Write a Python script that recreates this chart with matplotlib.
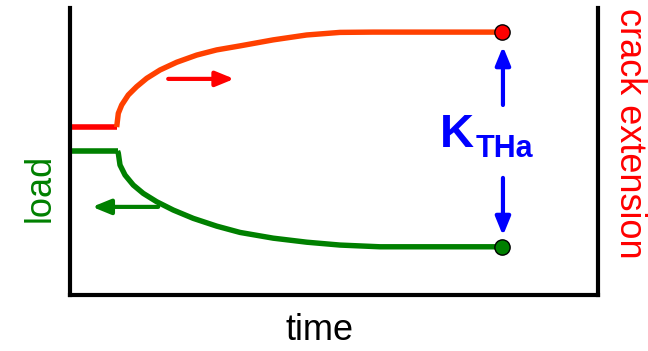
import matplotlib
matplotlib.use("Agg")
import matplotlib.pyplot as plt

# schematic units: time 0-100, signal 0-100
crack_flat_t = [0.0, 8.9]
crack_flat_v = [58.5, 58.5]
crack_t = [8.84, 9.15, 9.79, 11.04, 12.63, 14.53, 17.05, 20.21, 24.0, 27.78, 32.2, 38.5, 44.83, 51.14, 57.39, 81.82]
crack_v = [58.5, 63.3, 66.2, 69.7, 72.6, 75.5, 78.4, 81.1, 83.6, 85.4, 86.8, 88.9, 90.6, 91.5, 91.6, 91.6]

load_flat_t = [0.0, 9.1]
load_flat_v = [50.2, 50.2]
load_t = [9.0, 9.15, 9.47, 10.42, 11.99, 13.88, 16.42, 19.56, 23.35, 27.78, 32.2, 38.5, 44.83, 51.14, 58.71, 81.82]
load_v = [50.2, 49.4, 45.3, 41.8, 38.3, 35.4, 32.5, 29.6, 26.7, 24.0, 21.8, 19.8, 18.4, 17.4, 16.8, 16.8]

# threshold point (end of both curves)
kth_t = 81.82
kth_crack = 91.6
kth_load = 16.8

red = "#ff0000"
orange_red = "#ff4000"
green = "#008000"
blue = "#0000ff"

plt.rcParams['font.family'] = ['Liberation Sans', 'DejaVu Sans']

fig = plt.figure(figsize=(6.48, 3.51), dpi=100)
ax = fig.add_axes([70/648, 1 - 295/351, 528/648, 287/351])
ax.set_xlim(0, 100)
ax.set_ylim(0, 100)

ax.plot(crack_flat_t, crack_flat_v, color=red, lw=4.0, solid_capstyle='butt')
ax.plot(crack_t, crack_v, color=orange_red, lw=3.9, solid_capstyle='butt', solid_joinstyle='round')
ax.plot(load_flat_t, load_flat_v, color=green, lw=4.0, solid_capstyle='butt')
ax.plot(load_t, load_v, color=green, lw=3.9, solid_capstyle='butt', solid_joinstyle='round')

ax.plot([kth_t], [kth_crack], 'o', ms=11, mfc=red, mec='black', mew=1.0, zorder=5)
ax.plot([kth_t], [kth_load], 'o', ms=11, mfc=green, mec='black', mew=1.0, zorder=5)

# direction arrows
def arrow(x0, y0, x1, y1, c):
    ax.annotate('', xy=(x1, y1), xytext=(x0, y0),
                arrowprops=dict(arrowstyle='-|>,head_length=1.1,head_width=0.45',
                                color=c, lw=3, shrinkA=0, shrinkB=0))

arrow(18.6, 75.3, 31.1, 75.3, red)
arrow(16.7, 30.7, 4.2, 30.7, green)
arrow(82.0, 66.2, 82.0, 86.6, blue)
arrow(82.0, 40.8, 82.0, 20.7, blue)

ax.text(70.0, 51.6, 'K', color=blue, fontsize=34, fontweight='bold', ha='left', va='baseline')
ax.text(76.8, 48.1, 'THa', color=blue, fontsize=22, fontweight='bold', ha='left', va='baseline')

ax.set_xticks([])
ax.set_yticks([])
ax.spines['top'].set_visible(False)
for s in ['left', 'right', 'bottom']:
    ax.spines[s].set_linewidth(3)
    ax.spines[s].set_color('black')

fig.text(630/648, 1 - 133/351, 'crack extension', color=red, fontsize=26,
         rotation=-90, ha='center', va='center')
fig.text(40/648, 1 - 188/351, 'load', color=green, fontsize=26,
         rotation=90, ha='center', va='center')
fig.text(320/648, 1 - 330/351, 'time', color='black', fontsize=26,
         ha='center', va='center')

fig.savefig('out.png', dpi=100)
